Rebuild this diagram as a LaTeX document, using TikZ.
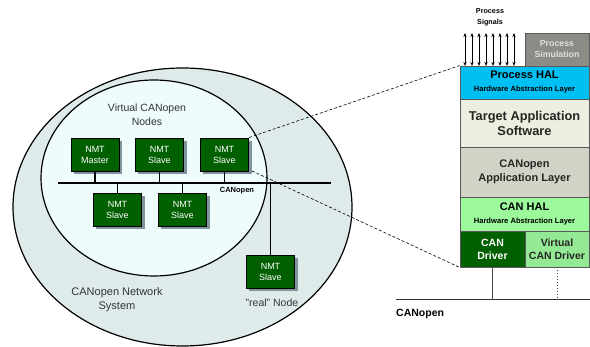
\documentclass[tikz,border=0pt]{standalone}
\usepackage{fontspec}
\setmainfont{Liberation Sans}
\usetikzlibrary{arrows.meta,shapes.geometric}
\pgfdeclarelayer{bg}
\pgfdeclarelayer{shadow}
\pgfsetlayers{bg,shadow,main}
\definecolor{nmtgreen}{HTML}{006000}
\definecolor{shadowc}{HTML}{7F949C}
\definecolor{outerfill}{HTML}{DFEBEB}
\definecolor{innerfill}{HTML}{EEFCFC}
\definecolor{halblue}{HTML}{00BFF2}
\definecolor{tappfill}{HTML}{EDEDE0}
\definecolor{coappfill}{HTML}{D2D2C6}
\definecolor{canhalfill}{HTML}{9CFA9C}
\definecolor{vdrvfill}{HTML}{94EA94}
\definecolor{simfill}{HTML}{8C8C86}
\definecolor{labelgray}{HTML}{333333}
\begin{document}
\begin{tikzpicture}[x=1pt,y=-1pt,
  nmt/.style={draw=black, line width=0.9pt, fill=nmtgreen, text=white,
    minimum width=48pt, minimum height=33pt, inner sep=0pt, align=center,
    font=\fontsize{9}{11}\selectfont},
  shadowbox/.style={fill=shadowc},
  layer/.style={draw=black!65, line width=0.8pt, inner sep=0pt, align=center},
  wire/.style={line width=1.1pt, black},
  leader/.style={line width=0.6pt, dash pattern=on 3pt off 2pt},
  sig/.style={line width=0.9pt, {Stealth[length=4pt,width=3.2pt]}-{Stealth[length=4pt,width=3.2pt]}},
  lbl/.style={text=labelgray, align=center, inner sep=0pt}
]
\useasboundingbox (0,0) rectangle (590,347);

% ellipses
\begin{pgfonlayer}{bg}
\node[ellipse, draw=black, line width=1.2pt, fill=outerfill,
  minimum width=339pt, minimum height=278pt, inner sep=0pt] (outer) at (182.5,207) {};
\node[ellipse, draw=black, line width=1.2pt, fill=innerfill,
  minimum width=226pt, minimum height=196pt, inner sep=0pt] (inner) at (154,178) {};
\end{pgfonlayer}

% labels in ellipses
\node[lbl, font=\fontsize{10.5}{13.5}\selectfont] (vlabel) at (147,115) {Virtual CANopen\\Nodes};
\node[lbl, font=\fontsize{11}{14}\selectfont] (netlabel) at (117,300) {CANopen Network\\System};
\node[lbl, font=\fontsize{10.5}{13}\selectfont] (reallabel) at (272,303) {"real" Node};

% bus
\coordinate (busL) at (58,183);
\coordinate (busR) at (331,183);
\draw[wire] (busL) -- (busR);
\node[font=\bfseries\fontsize{7.5}{9}\selectfont, inner sep=0pt] (buslabel) at (237,191) {CANopen};

% NMT nodes
\node[nmt] (m1) at (95,154.5) {NMT\\Master};
\node[nmt] (s2) at (159.5,154.5) {NMT\\Slave};
\node[nmt] (s3) at (224.5,154.5) {NMT\\Slave};
\node[nmt] (s4) at (117.5,209.5) {NMT\\Slave};
\node[nmt] (s5) at (182.5,209.5) {NMT\\Slave};
\node[nmt] (real) at (270.5,271.5) {NMT\\Slave};

\begin{pgfonlayer}{shadow}
\foreach \n in {m1,s2,s3,s4,s5,real} {
  \fill[shadowbox] ([shift={(3,3)}]\n.north west) rectangle ([shift={(3,3)}]\n.south east);
}
\end{pgfonlayer}

\draw[wire] (m1.south) -- (m1.south |- busL);
\draw[wire] (s2.south) -- (s2.south |- busL);
\draw[wire] (s3.south) -- (s3.south |- busL);
\draw[wire] (s4.north) -- (s4.north |- busL);
\draw[wire] (s5.north) -- (s5.north |- busL);
\draw[wire] (real.north) -- (real.north |- busL);

% stack
\node[layer, fill=simfill, text=white!88!black, minimum width=64pt, minimum height=33pt,
  font=\bfseries\fontsize{8.8}{11}\selectfont] (sim) at (557,49.5) {Process\\Simulation};
\node[layer, fill=halblue, minimum width=129pt, minimum height=33pt] (phal) at (524.5,82.5)
  {{\bfseries\fontsize{11}{13}\selectfont Process HAL}\\[1pt]{\bfseries\fontsize{7.6}{9}\selectfont Hardware Abstraction Layer}};
\node[layer, fill=tappfill, text=black!85, minimum width=129pt, minimum height=48pt,
  font=\bfseries\fontsize{12.8}{15}\selectfont] (tapp) at (524.5,123) {Target Application\\Software};
\node[layer, fill=coappfill, text=black!85, minimum width=129pt, minimum height=50pt,
  font=\bfseries\fontsize{11}{13.5}\selectfont] (coapp) at (524.5,172) {CANopen\\Application Layer};
\node[layer, fill=canhalfill, minimum width=129pt, minimum height=34pt] (canhal) at (524.5,214)
  {{\bfseries\fontsize{11}{13}\selectfont CAN HAL}\\[1pt]{\bfseries\fontsize{7.6}{9}\selectfont Hardware Abstraction Layer}};
\node[layer, fill=nmtgreen, text=white, minimum width=65pt, minimum height=36pt,
  font=\bfseries\fontsize{10.5}{13}\selectfont] (drv) at (492.5,249) {CAN\\Driver};
\node[layer, fill=vdrvfill, text=black!85, minimum width=64pt, minimum height=36pt,
  font=\bfseries\fontsize{10.5}{13}\selectfont] (vdrv) at (557,249) {Virtual\\CAN Driver};

% process signals
\node[font=\bfseries\fontsize{7.2}{10.5}\selectfont, align=center, inner sep=0pt] (psig) at (490,17.5) {Process\\Signals};
\foreach \i in {0,...,7} {
  \coordinate (st\i) at ({465+7*\i},33);
  \coordinate (sb\i) at ({465+7*\i},66);
  \draw[sig] (st\i) -- (sb\i);
}

% CANopen bus on the right
\coordinate (canL) at (396,300);
\coordinate (canR) at (590,300);
\draw[line width=1pt, black!80] (canL) -- (canR);
\draw[line width=1pt, black!70] (drv.south) -- (drv.south |- canL);
\draw[line width=1pt, black!70, dotted] (vdrv.south) -- (vdrv.south |- canL);
\node[font=\bfseries\fontsize{10.5}{13}\selectfont, anchor=west, inner sep=0pt] (canlabel) at (396,314) {CANopen};

% leader lines
\draw[leader] (s3.north east) -- (phal.north west);
\draw[leader] ([xshift=3pt,yshift=0.5pt]s3.south east) -- (drv.south west);
\end{tikzpicture}
\end{document}
